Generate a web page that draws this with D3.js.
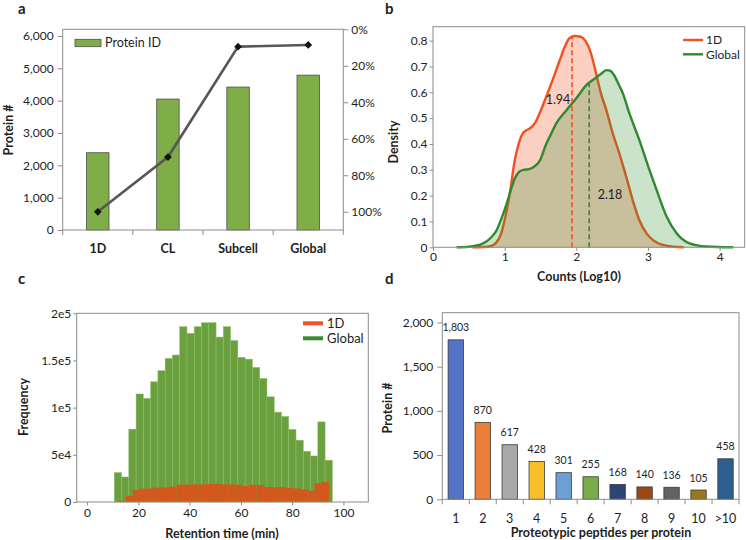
<!DOCTYPE html>
<html>
<head>
<meta charset="utf-8">
<script src="https://cdn.jsdelivr.net/npm/d3@7"></script>
<style>
  body { margin: 0; background: #fff; }
  svg text { font-family: Lato, "Open Sans", sans-serif; fill: #1e1e1e; }
</style>
</head>
<body>
<div id="chart"></div>
<script>
// ---- panel a : protein IDs per method
let methods = ['1D', 'CL', 'Subcell', 'Global'];
let proteinIds = [2390, 4050, 4420, 4790];
let linePct = [1.00, 0.70, 0.095, 0.086];
let countTicks = [0, 1000, 2000, 3000, 4000, 5000, 6000];
let pctTicks = [0, 0.2, 0.4, 0.6, 0.8, 1.0];

// ---- panel b : density of counts (log10)
let density1D = [
  [0.55, 0], [0.70, 0.001], [0.80, 0.004], [0.88, 0.018], [0.94, 0.045], [1.00, 0.106],
  [1.07, 0.205], [1.14, 0.335], [1.19, 0.395], [1.24, 0.435], [1.30, 0.452], [1.36, 0.462],
  [1.42, 0.48], [1.49, 0.52], [1.58, 0.583], [1.67, 0.648], [1.77, 0.725], [1.84, 0.777],
  [1.91, 0.811], [1.98, 0.818], [2.06, 0.815], [2.13, 0.798], [2.20, 0.755], [2.27, 0.68],
  [2.34, 0.60], [2.42, 0.53], [2.51, 0.44], [2.60, 0.364], [2.70, 0.27], [2.79, 0.18],
  [2.88, 0.105], [2.98, 0.054], [3.07, 0.028], [3.21, 0.009], [3.35, 0.002], [3.50, 0]
];
let densityGlobal = [
  [0.33, 0], [0.50, 0.002], [0.70, 0.015], [0.80, 0.035], [0.89, 0.067], [0.96, 0.115],
  [1.03, 0.17], [1.09, 0.225], [1.14, 0.265], [1.20, 0.292], [1.26, 0.30], [1.33, 0.302],
  [1.40, 0.31], [1.49, 0.335], [1.58, 0.40], [1.65, 0.44], [1.72, 0.48], [1.86, 0.53],
  [2.00, 0.577], [2.14, 0.628], [2.28, 0.658], [2.36, 0.675], [2.42, 0.686], [2.47, 0.684],
  [2.53, 0.665], [2.60, 0.625], [2.65, 0.596], [2.74, 0.519], [2.88, 0.415], [3.02, 0.30],
  [3.12, 0.222], [3.26, 0.119], [3.40, 0.054], [3.58, 0.015], [3.81, 0.003], [4.19, 0]
];
let median1D = 1.94;
let medianGlobal = 2.18;
let medianTop1D = 0.815;
let medianTopGlobal = 0.64;
let countTicksB = [0, 1, 2, 3, 4];
let densTicks = [0, 0.1, 0.2, 0.3, 0.4, 0.5, 0.6, 0.7, 0.8];

// ---- panel c : retention time histogram
let rtEdgesGlobal = [10.60, 13.44, 16.27, 19.11, 21.94, 24.78, 27.62, 30.45, 33.29, 36.12,
  38.96, 41.80, 44.63, 47.47, 50.30, 53.14, 55.98, 58.81, 61.65, 64.48, 67.32, 70.16,
  72.99, 75.83, 78.66, 81.50, 84.34, 87.17, 90.01, 92.84, 95.68];
let rtCountsGlobal = [31200, 26500, 77200, 114500, 109900, 127400, 139100, 152200, 155800,
  185800, 178800, 185800, 190000, 190000, 174800, 185800, 171200, 153300, 151400, 142700,
  131000, 111500, 95200, 90600, 76900, 65500, 53800, 48800, 84900, 44300];
let rtEdges1D = [12.20, 15.04, 17.87, 20.71, 23.54, 26.38, 29.22, 32.05, 34.89, 37.72,
  40.56, 43.40, 46.23, 49.07, 51.90, 54.74, 57.58, 60.41, 63.25, 66.08, 68.92, 71.76,
  74.59, 77.43, 80.26, 83.10, 85.94, 88.77, 91.61, 94.44];
let rtCounts1D = [1400, 6700, 12700, 14100, 14400, 15200, 15500, 16200, 18400, 18400, 18700,
  18700, 19100, 19100, 18700, 18700, 18300, 17000, 18400, 18000, 16000, 15600, 16000, 15000,
  14300, 13300, 12000, 20000, 21000];
let rtTicks = [0, 20, 40, 60, 80, 100];
let freqTicks = [0, 50000, 100000, 150000, 200000];
let freqLabels = ['0', '5e4', '1e5', '1.5e5', '2e5'];

// ---- panel d : proteotypic peptides per protein
let peptideBins = ['1', '2', '3', '4', '5', '6', '7', '8', '9', '10', '>10'];
let peptideCounts = [1803, 870, 617, 428, 301, 255, 168, 140, 136, 105, 458];
let peptideColors = ['#5573c4', '#ea7d38', '#a9a9a9', '#f6bf2b', '#6c9fd6', '#79ad48',
  '#2d4478', '#9d4717', '#626262', '#9c7719', '#2e5d8f'];
let peptTicks = [0, 500, 1000, 1500, 2000];

let orange = '#f0521f';
let green = '#2f8a2f';
let frameCol = '#8c8c8c';

let svg = d3.select('#chart').append('svg')
    .attr('width', 746)
    .attr('height', 540);

function styleAxis(sel) {
    sel.select('.domain').remove();
    sel.selectAll('.tick line').attr('stroke', frameCol);
    sel.selectAll('.tick text').style('font-size', '12px').attr('fill', '#1e1e1e');
}

function panelLetter(txt, x, y) {
    svg.append('text').attr('x', x).attr('y', y)
        .style('font-size', '15px').style('font-weight', 'bold').text(txt);
}

function axisTitle(txt, x, y, rotate) {
    let t = svg.append('text')
        .attr('text-anchor', 'middle')
        .style('font-size', '12.5px').style('font-weight', 'bold')
        .text(txt);
    if (rotate) {
        t.attr('transform', `translate(${x},${y}) rotate(-90)`);
    } else {
        t.attr('x', x).attr('y', y);
    }
}

function frame(x0, x1, y0, y1) {
    svg.append('rect')
        .attr('x', x0).attr('y', y0)
        .attr('width', x1 - x0).attr('height', y1 - y0)
        .attr('fill', 'none').attr('stroke', frameCol).attr('stroke-width', 1);
}

// =================== a
let aX = d3.scaleBand().domain(methods).range([62.7, 343.3]);
let aY = d3.scaleLinear().domain([0, 6207]).range([230, 29.3]);
let aY2 = d3.scaleLinear().domain([0, 1.1]).range([29.3, 230]);
let aBw = aX.bandwidth();

svg.append('g').attr('transform', 'translate(62.7,0)')
    .call(d3.axisLeft(aY).tickValues(countTicks).tickFormat(d3.format(',')).tickSize(5).tickPadding(4))
    .call(styleAxis);
svg.append('g').attr('transform', 'translate(343.3,0)')
    .call(d3.axisRight(aY2).tickValues(pctTicks).tickFormat(d3.format('.0%')).tickSize(5).tickPadding(3))
    .call(styleAxis);

let aBounds = methods.map(d => aX(d)).concat([aX(methods[methods.length - 1]) + aBw]);
svg.append('g').selectAll('line').data(aBounds).join('line')
    .attr('x1', d => d).attr('x2', d => d)
    .attr('y1', 230).attr('y2', 235)
    .attr('stroke', frameCol);

svg.append('g').selectAll('rect').data(proteinIds).join('rect')
    .attr('x', (d, i) => aX(methods[i]) + aBw * 0.34)
    .attr('width', aBw * 0.32)
    .attr('y', d => aY(d))
    .attr('height', d => aY(0) - aY(d))
    .attr('fill', '#7fad47')
    .attr('stroke', '#4d4d4d')
    .attr('stroke-width', 0.8);

frame(62.7, 343.3, 29.3, 230);

svg.append('g').selectAll('text').data(methods).join('text')
    .attr('x', d => aX(d) + aBw / 2)
    .attr('y', 252.5)
    .attr('text-anchor', 'middle')
    .style('font-size', '12.5px').style('font-weight', 'bold')
    .text(d => d);

let aLine = d3.line()
    .x((d, i) => aX(methods[i]) + aBw / 2)
    .y(d => aY2(d));
svg.append('path').datum(linePct)
    .attr('d', aLine)
    .attr('fill', 'none')
    .attr('stroke', '#575757')
    .attr('stroke-width', 2.6);
svg.append('g').selectAll('path').data(linePct).join('path')
    .attr('d', d3.symbol(d3.symbolSquare).size(30))
    .attr('transform', (d, i) => `translate(${aX(methods[i]) + aBw / 2},${aY2(d)}) rotate(45)`)
    .attr('fill', '#111');

svg.append('rect').attr('x', 75).attr('y', 39.3).attr('width', 26).attr('height', 7.4)
    .attr('fill', '#7fad47').attr('stroke', '#4d4d4d').attr('stroke-width', 0.8);
svg.append('text').attr('x', 105).attr('y', 47.3).style('font-size', '12.5px').text('Protein ID');

axisTitle('Protein #', 13, 130, true);
panelLetter('a', 18, 14);

// =================== b
let bX = d3.scaleLinear().domain([0, 4.35]).range([433, 744.7]);
let bY = d3.scaleLinear().domain([0, 0.854]).range([247.3, 26.7]);
let fmtB = d => d === 0 ? '0' : d3.format('.1f')(d);

let bArea = d3.area().curve(d3.curveMonotoneX)
    .x(d => bX(d[0])).y0(bY(0)).y1(d => bY(d[1]));
let bLine = d3.line().curve(d3.curveMonotoneX)
    .x(d => bX(d[0])).y(d => bY(d[1]));

svg.append('path').datum(density1D).attr('d', bArea)
    .attr('fill', orange).attr('fill-opacity', 0.27);
svg.append('path').datum(density1D).attr('d', bLine)
    .attr('fill', 'none').attr('stroke', orange).attr('stroke-width', 2.4);
svg.append('path').datum(densityGlobal).attr('d', bArea)
    .attr('fill', green).attr('fill-opacity', 0.25);
svg.append('path').datum(densityGlobal).attr('d', bLine)
    .attr('fill', 'none').attr('stroke', green).attr('stroke-width', 2.4);

svg.append('line')
    .attr('x1', bX(median1D)).attr('x2', bX(median1D))
    .attr('y1', bY(0)).attr('y2', bY(medianTop1D))
    .attr('stroke', orange).attr('stroke-width', 1.6).attr('stroke-dasharray', '5,3');
svg.append('line')
    .attr('x1', bX(medianGlobal)).attr('x2', bX(medianGlobal))
    .attr('y1', bY(0)).attr('y2', bY(medianTopGlobal))
    .attr('stroke', green).attr('stroke-width', 1.6).attr('stroke-dasharray', '5,3');

svg.append('text').attr('x', 558).attr('y', 104).attr('text-anchor', 'middle')
    .style('font-size', '12.5px').text(d3.format('.2f')(median1D));
svg.append('text').attr('x', 610).attr('y', 199).attr('text-anchor', 'middle')
    .style('font-size', '12.5px').text(d3.format('.2f')(medianGlobal));

svg.append('g').attr('transform', 'translate(0,247.3)')
    .call(d3.axisBottom(bX).tickValues(countTicksB).tickFormat(d3.format('d')).tickSize(3.5).tickPadding(2))
    .call(styleAxis);
svg.append('g').attr('transform', 'translate(433,0)')
    .call(d3.axisLeft(bY).tickValues(densTicks).tickFormat(fmtB).tickSize(3.5).tickPadding(2))
    .call(styleAxis);
frame(433, 744.7, 26.7, 247.3);

[['1D', orange, 40], ['Global', green, 54.3]].forEach(l => {
    svg.append('line').attr('x1', 683).attr('x2', 703).attr('y1', l[2]).attr('y2', l[2])
        .attr('stroke', l[1]).attr('stroke-width', 2.4);
    svg.append('text').attr('x', 706).attr('y', l[2] + 4.3).style('font-size', '12px').text(l[0]);
});

axisTitle('Density', 398, 142, true);
axisTitle('Counts (Log10)', 579, 281, false);
panelLetter('b', 385, 14);

// =================== c
let cX = d3.scaleLinear().domain([-4.06, 109.7]).range([76.7, 368.3]);
let cY = d3.scaleLinear().domain([0, 200000]).range([502, 313.3]);

svg.append('g').selectAll('rect').data(rtCountsGlobal).join('rect')
    .attr('x', (d, i) => cX(rtEdgesGlobal[i]))
    .attr('width', (d, i) => cX(rtEdgesGlobal[i + 1]) - cX(rtEdgesGlobal[i]))
    .attr('y', d => cY(d))
    .attr('height', d => cY(0) - cY(d))
    .attr('fill', '#6ba03f')
    .attr('stroke', '#8dbd68').attr('stroke-width', 0.5);
svg.append('g').selectAll('rect').data(rtCounts1D).join('rect')
    .attr('x', (d, i) => cX(rtEdges1D[i]))
    .attr('width', (d, i) => cX(rtEdges1D[i + 1]) - cX(rtEdges1D[i]))
    .attr('y', d => cY(d))
    .attr('height', d => cY(0) - cY(d))
    .attr('fill', '#d4581d');

svg.append('g').attr('transform', 'translate(0,502)')
    .call(d3.axisBottom(cX).tickValues(rtTicks).tickSize(3.5).tickPadding(3))
    .call(styleAxis);
svg.append('g').attr('transform', 'translate(76.7,0)')
    .call(d3.axisLeft(cY).tickValues(freqTicks).tickFormat((d, i) => freqLabels[i]).tickSize(3.5).tickPadding(2))
    .call(styleAxis);
frame(76.7, 368.3, 313.3, 502);

[['1D', '#f0521f', 323.3], ['Global', '#3a8c2e', 338.3]].forEach(l => {
    svg.append('line').attr('x1', 303).attr('x2', 323).attr('y1', l[2]).attr('y2', l[2])
        .attr('stroke', l[1]).attr('stroke-width', 4);
    svg.append('text').attr('x', 327).attr('y', l[2] + 5).style('font-size', '13px').text(l[0]);
});

axisTitle('Frequency', 28, 407, true);
axisTitle('Retention time (min)', 222, 538, false);
panelLetter('c', 18, 284);

// =================== d
let dX = d3.scaleBand().domain(peptideBins).range([442.3, 739]);
let dY = d3.scaleLinear().domain([0, 2110]).range([499.3, 312.7]);
let dBw = dX.bandwidth();

svg.append('g').attr('transform', 'translate(442.3,0)')
    .call(d3.axisLeft(dY).tickValues(peptTicks).tickFormat(d3.format(',')).tickSize(5).tickPadding(4))
    .call(styleAxis);

let dBounds = peptideBins.map(d => dX(d)).concat([dX(peptideBins[peptideBins.length - 1]) + dBw]);
svg.append('g').selectAll('line').data(dBounds).join('line')
    .attr('x1', d => d).attr('x2', d => d)
    .attr('y1', 499.3).attr('y2', 504.3)
    .attr('stroke', frameCol);

svg.append('g').selectAll('rect').data(peptideCounts).join('rect')
    .attr('x', (d, i) => dX(peptideBins[i]) + dBw * 0.215)
    .attr('width', dBw * 0.57)
    .attr('y', d => dY(d))
    .attr('height', d => dY(0) - dY(d))
    .attr('fill', (d, i) => peptideColors[i])
    .attr('stroke', '#3a3a3a')
    .attr('stroke-width', 0.8);

frame(442.3, 739, 312.7, 499.3);

svg.append('g').selectAll('text').data(peptideCounts).join('text')
    .attr('x', (d, i) => dX(peptideBins[i]) + dBw / 2)
    .attr('y', d => dY(d) - 8.5)
    .attr('text-anchor', 'middle')
    .style('font-size', '10.5px')
    .text(d => d3.format(',')(d));

svg.append('g').selectAll('text.cat').data(peptideBins).join('text')
    .attr('x', d => dX(d) + dBw / 2)
    .attr('y', 522.5)
    .attr('text-anchor', 'middle')
    .style('font-size', '12.5px')
    .text(d => d);

axisTitle('Protein #', 392, 408, true);
axisTitle('Proteotypic peptides per protein', 601, 537, false);
panelLetter('d', 385, 284);
</script>
</body>
</html>
